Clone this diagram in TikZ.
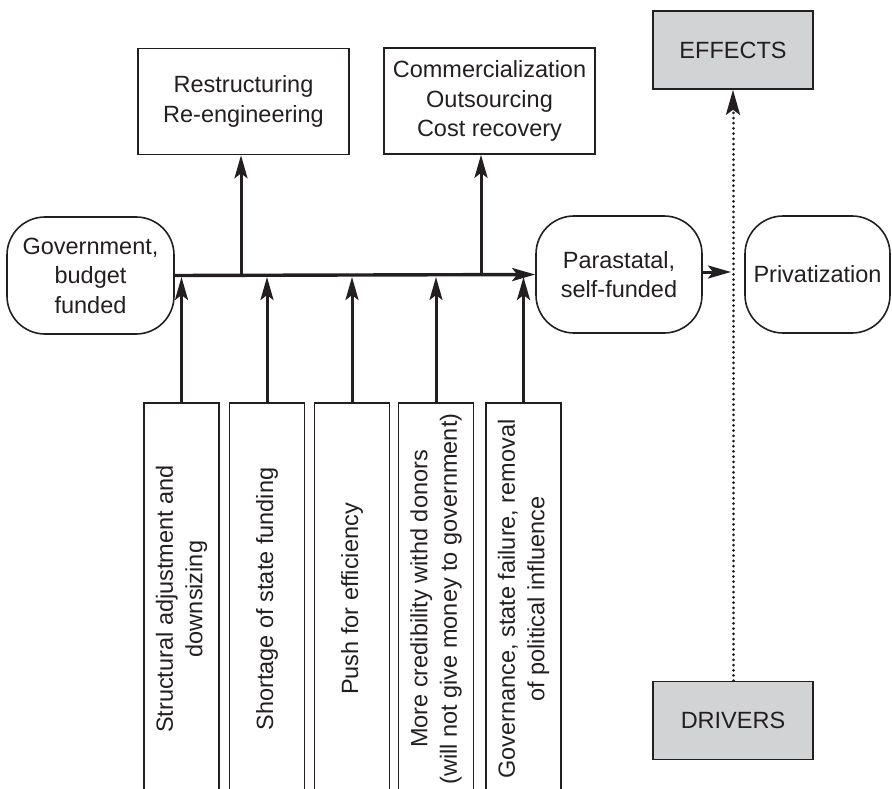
\documentclass[tikz,border=0pt]{standalone}
\usepackage{fontspec}
\setmainfont{Liberation Sans}
\usetikzlibrary{arrows.meta}
\definecolor{ink}{RGB}{35,31,32}
\definecolor{boxgray}{RGB}{210,211,213}
\begin{document}
\begin{tikzpicture}[x=1pt,y=-1pt,
  every node/.style={font=\fontsize{23.5}{29.5}\selectfont, text=ink, align=center, inner sep=0pt},
  rectbox/.style={draw=ink, line width=1.6pt, rectangle},
  roundbox/.style={draw=ink, line width=1.6pt, rounded corners=38pt, minimum height=117pt},
  graybox/.style={rectbox, fill=boxgray, minimum width=160pt, minimum height=78pt},
  topbox/.style={rectbox, minimum width=211pt, minimum height=106pt},
  driverbox/.style={rectbox, rotate=90, minimum width=392pt, minimum height=75pt},
  flow/.style={draw=ink, line width=3pt, -{Stealth[length=23pt,width=13pt,inset=5pt]}},
  link/.style={draw=ink, line width=3.4pt, -{Stealth[length=23pt,width=13pt,inset=5pt]}},
  dotline/.style={draw=ink, line width=3pt, line cap=round, dash pattern=on 0.01pt off 5.2pt, -{Stealth[length=25pt,width=14pt,inset=5pt]}}
]
\useasboundingbox (0,0) rectangle (892,789);
\clip (0,0) rectangle (892,789);

% top boxes
\node[topbox] (r) at (243.5,101.5) {Restructuring\\Re-engineering};
\node[topbox] (c) at (489.5,101) {Commercialization\\Outsourcing\\Cost recovery};
\node[graybox] (e) at (733,50) {EFFECTS};
\node[graybox] (d) at (733,720.5) {DRIVERS};

% rounded states
\node[roundbox, minimum width=167pt] (g) at (90.5,275.5) {Government,\\budget\\funded};
\node[roundbox, minimum width=166pt] (p) at (619,274.5) {Parastatal,\\self-funded};
\node[roundbox, minimum width=145pt] (v) at (817.5,274.5) {Privatization};

% driver boxes (open at the bottom edge of the picture)
\node[driverbox] (b1) at (181.5,599) {Structural adjustment and\\downsizing};
\node[driverbox] (b2) at (267,599) {Shortage of state funding};
\node[driverbox] (b3) at (352,599) {Push for efficiency};
\node[driverbox] (b4) at (436,599) {More credibility withd donors\\(will not give money to government)};
\node[driverbox] (b5) at (523.5,599) {Governance, state failure, removal\\of political influence};

% main flow
\draw[link] (g.east) -- (p.west);
\coordinate (main) at (0,277);
\coordinate (j1) at (241,275);
\coordinate (j2) at (481,275);
\draw[flow] (j1) -- (j1 |- r.south);
\draw[flow] (j2) -- (j2 |- c.south);
\foreach \b in {b1,b2,b3,b4,b5}
  \draw[flow] (\b.east) -- (\b.east |- main);

% to the dotted divide
\coordinate (dl) at (731,272);
\draw[flow] (p.east |- dl) -- (dl);
\draw[dotline] (d.north) -- (e.south);
\end{tikzpicture}
\end{document}
